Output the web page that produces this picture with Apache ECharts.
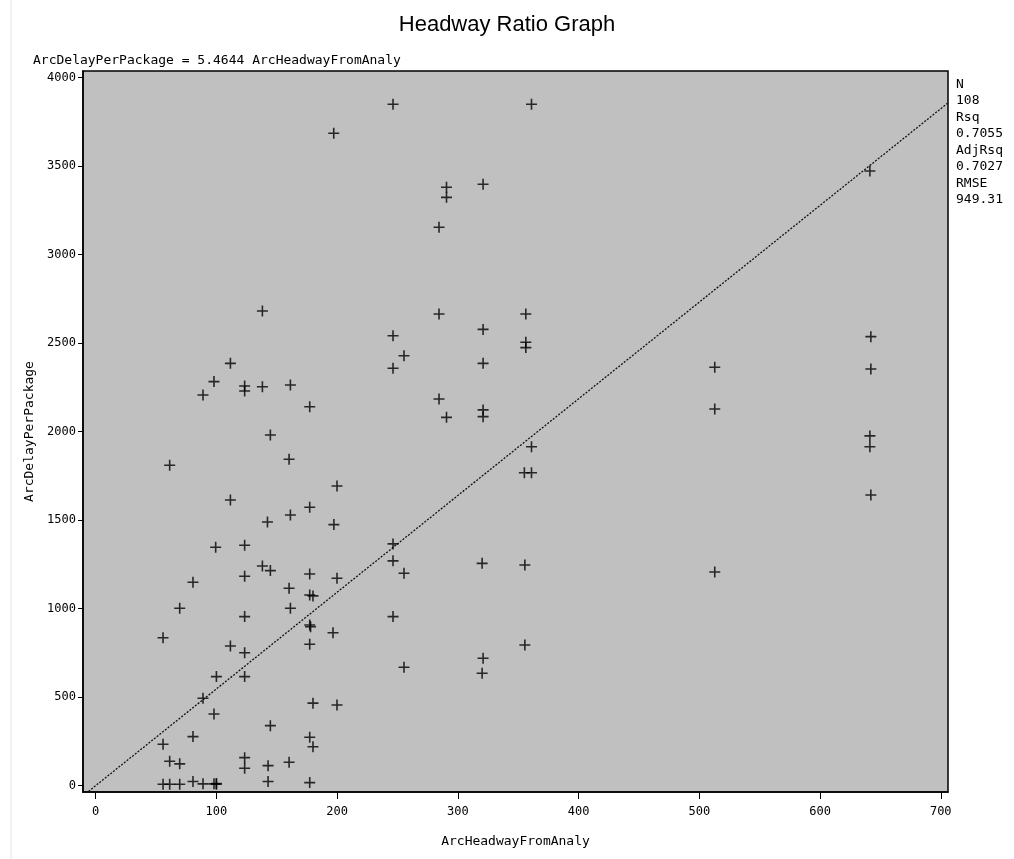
<!DOCTYPE html>
<html>
<head>
<meta charset="utf-8">
<script src="https://cdn.jsdelivr.net/npm/echarts@6/dist/echarts.min.js"></script>
<style>
html,body{margin:0;padding:0;background:#fff;}
#chart{width:1014px;height:859px;}
</style>
</head>
<body>
<div id="chart"></div>
<script>
// ---- data ----
const arcHeadway = [
  69.6,55.8,123.4,111.6,123.4,100,123.4,88.9,98,144.7,80.6,55.8,61.3,69.6,123.4,123.4,142.8,142.8,55.8,61.3,69.6,80.6,88.9,98,100,100,
  138.1,111.6,98,88.9,123.4,123.4,138.1,144.7,61.3,111.6,142.3,99.4,123.4,138.1,144.7,80.6,123.4,
  246.3,197.2,246.3,255.4,246.3,161.3,177.3,160.2,199.9,177.3,161.3,197.3,246.3,246.3,255.4,177.3,199.9,160.2,177.3,180,161.3,246.3,177.3,178,196.6,177.3,255.4,180,199.9,177.3,180,160.2,177.3,
  361,290.6,290.6,320.9,284.4,284.4,356.3,320.9,356.3,356.3,320.9,284.4,290.6,320.9,320.9,361,355.1,361,320.1,355.5,355.5,320.9,320.1,
  641.3,642.1,512.8,642.1,512.8,641.3,641.3,642.1,512.8
];
const arcDelay = [
  1002,836,955,789,751,616,616,494,405,339,277,234,138,123,158,98,113,23,8,8,8,23,10,10,8,12,
  2682,2386,2283,2207,2258,2230,2254,1981,1810,1614,1490,1347,1358,1241,1215,1149,1183,
  3850,3686,2542,2429,2358,2264,2141,1844,1693,1573,1529,1475,1366,1270,1200,1196,1172,1115,1077,1072,1002,955,908,898,864,799,669,466,456,273,220,132,17,
  3850,3381,3324,3398,3155,2665,2665,2578,2505,2475,2386,2185,2081,2123,2085,1915,1768,1768,1256,1247,795,720,635,
  3473,2537,2364,2354,2128,1976,1915,1642,1207
];
const slope = 5.4644;
const xTicks = [0,100,200,300,400,500,600,700];
const yTicks = [0,500,1000,1500,2000,2500,3000,3500,4000];
const xRange = [-10.5, 706];
const yRange = [-36, 4038];
const statLabels = ['N','Rsq','AdjRsq','RMSE'];
const statValues = ['108','0.7055','0.7027','949.31'];
const titleText = 'Headway Ratio Graph';
const xName = 'ArcHeadwayFromAnaly';
const yName = 'ArcDelayPerPackage';

// ---- build ----
const points = arcHeadway.map((x, i) => [x, arcDelay[i]]);
const fitLine = [[xRange[0], slope * xRange[0]], [xRange[1], slope * xRange[1]]];
const statLines = [];
statLabels.forEach((l, i) => { statLines.push(l); statLines.push(statValues[i]); });
const mono = "'DejaVu Sans Mono', monospace";

const chart = echarts.init(document.getElementById('chart'), null, {renderer: 'canvas'});
chart.setOption({
  backgroundColor: '#ffffff',
  animation: false,
  title: {
    text: titleText,
    left: 'center',
    top: 9,
    textStyle: {fontFamily: "'Liberation Sans', Arial, sans-serif", fontSize: 22, fontWeight: 'normal', color: '#000'}
  },
  grid: {left: 83, right: 66, top: 71, bottom: 67, show: true, backgroundColor: '#c0c0c0', borderColor: '#000', borderWidth: 1.5},
  xAxis: {
    type: 'value', min: xRange[0], max: xRange[1],
    name: xName, nameLocation: 'middle', nameGap: 43,
    nameTextStyle: {fontFamily: mono, fontSize: 13, color: '#000'},
    axisLine: {show: true, onZero: false, lineStyle: {color: '#000', width: 1.5}},
    axisTick: {show: true, customValues: xTicks, length: 7, lineStyle: {color: '#000', width: 1}},
    axisLabel: {customValues: xTicks, margin: 14, fontFamily: mono, fontSize: 12, color: '#000', formatter: v => String(v)},
    splitLine: {show: false}
  },
  yAxis: {
    type: 'value', min: yRange[0], max: yRange[1],
    name: yName, nameLocation: 'middle', nameGap: 36,
    nameTextStyle: {fontFamily: mono, fontSize: 13, color: '#000'},
    axisLine: {show: true, onZero: false, lineStyle: {color: '#000', width: 1.5}},
    axisTick: {show: true, customValues: yTicks, length: 5, lineStyle: {color: '#000', width: 1}},
    axisLabel: {customValues: yTicks, margin: 7, fontFamily: mono, fontSize: 12, color: '#000', formatter: v => String(v)},
    splitLine: {show: false}
  },
  graphic: [
    {type: 'line', shape: {x1: 11, y1: 0, x2: 11, y2: 859}, style: {stroke: '#e4e4e4', lineWidth: 1}, silent: true},
    {type: 'text', left: 33, top: 54, style: {text: 'ArcDelayPerPackage = 5.4644 ArcHeadwayFromAnaly', font: "13px 'DejaVu Sans Mono', monospace", fill: '#000'}},
    {type: 'text', left: 956, top: 76, style: {text: statLines.join('\n'), font: "13px 'DejaVu Sans Mono', monospace", fill: '#000', lineHeight: 16.5}}
  ],
  series: [
    {
      type: 'line', data: fitLine, symbol: 'none', clip: true,
      lineStyle: {color: '#111', width: 1.3, type: [2, 1.5]}, silent: true, z: 1
    },
    {
      type: 'scatter', data: points, symbol: 'path://M0,5L10,5M5,0L5,10', symbolSize: 11,
      itemStyle: {color: 'rgba(0,0,0,0)', borderColor: '#000', borderWidth: 1.6}, z: 2
    }
  ]
});
</script>
</body>
</html>
